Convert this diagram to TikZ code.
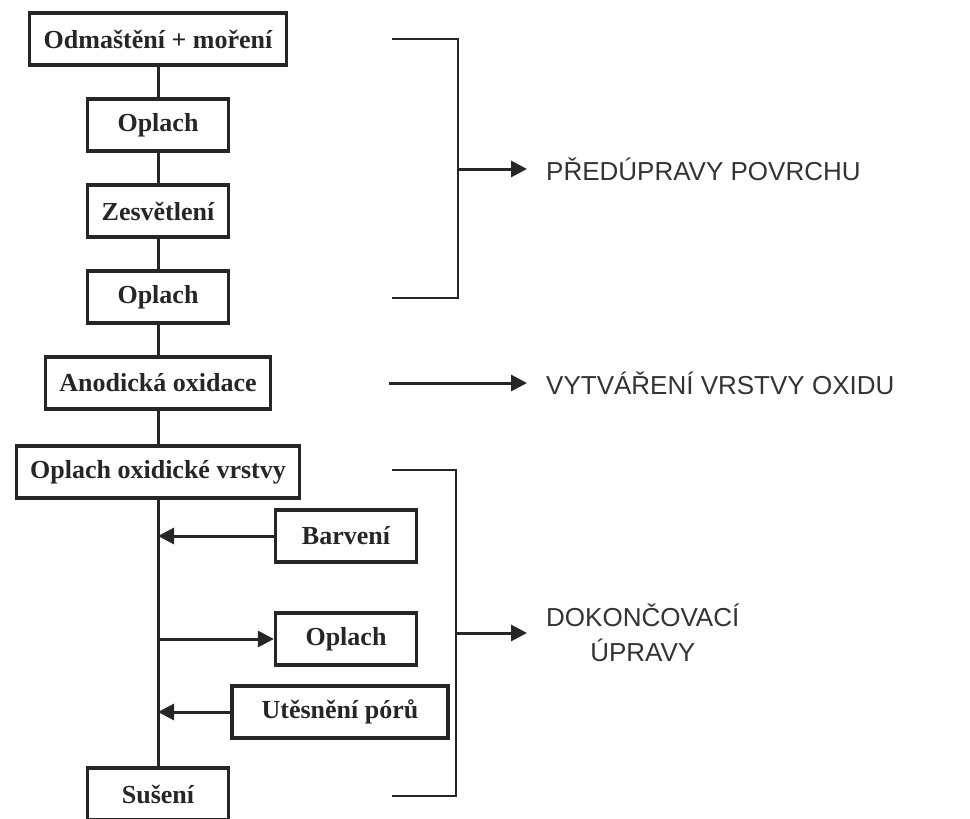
\documentclass[tikz,border=0pt]{standalone}
\usepackage{fontspec}
\setmainfont{Liberation Serif}
\setsansfont{Liberation Sans}
\usetikzlibrary{shapes,arrows.meta,positioning}

\begin{document}
\begin{tikzpicture}[x=1pt, y=1pt, node distance=86pt, auto,
    stepbox/.style={rectangle, draw=black!85, line width=3.2pt, minimum width=141pt, minimum height=52pt,
        inner xsep=14pt, font=\fontsize{26}{30}\selectfont\bfseries, text=black!85},
    phase/.style={inner xsep=19pt, inner ysep=0pt, align=center, text=black!80,
        font=\sffamily\fontsize{26}{35}\selectfont},
    conn/.style={draw=black!85, line width=3pt},
    toarrow/.style={conn, -{Triangle[length=16pt, width=16pt]}}]
    \useasboundingbox (0,0) rectangle (970,-819);

    % main sequence
    \node[stepbox] (odm) at (158,-39) {Odmaštění + moření};
    \node[stepbox, below of=odm] (opl1) {Oplach};
    \node[stepbox, below of=opl1] (zes) {Zesvětlení};
    \node[stepbox, below of=zes] (opl2) {Oplach};
    \node[stepbox, below of=opl2] (anod) {Anodická oxidace};
    \node[stepbox, below of=anod, node distance=89pt] (oxopl) {Oplach oxidické vrstvy};
    \node[stepbox, below of=oxopl, node distance=322pt] (sus) {Sušení};

    % side steps
    \node[stepbox] (barv) at (346,-536) {Barvení};
    \node[stepbox] (opl3) at (346,-639) {Oplach};
    \node[stepbox, minimum width=216pt] (ute) at (340,-712) {Utěsnění pórů};

    % phase labels
    \node[phase, anchor=west] (pred) at (527,-169) {PŘEDÚPRAVY POVRCHU};
    \node[phase, anchor=west] (vytv) at (527,-383) {VYTVÁŘENÍ VRSTVY OXIDU};
    \node[phase, anchor=west] (dok) at (527,-633) {DOKONČOVACÍ\\ÚPRAVY};

    % bracket corners
    \coordinate (b1t) at (392,-39);
    \coordinate (b1b) at (392,-298);
    \coordinate (b1m) at (458,-169);
    \coordinate (a0) at (389,-383);
    \coordinate (b2t) at (392,-470);
    \coordinate (b2b) at (392,-796);
    \coordinate (b2m) at (456,-633);

    % main line
    \draw[conn] (odm) -- (opl1);
    \draw[conn] (opl1) -- (zes);
    \draw[conn] (zes) -- (opl2);
    \draw[conn] (opl2) -- (anod);
    \draw[conn] (anod) -- (oxopl);
    \draw[conn] (oxopl) -- (sus);

    % side arrows
    \draw[toarrow] (barv.west) -- (barv -| sus);
    \draw[toarrow] (opl3 -| sus) -- (opl3.west);
    \draw[toarrow] (ute.west) -- (ute -| sus);

    % brackets
    \draw[conn, line width=2.6pt] (b1t) -| (b1m) |- (b1b);
    \draw[toarrow] (b1m) -- (pred.west);
    \draw[toarrow] (a0) -- (vytv.west);
    \draw[conn, line width=2.6pt] (b2t) -| (b2m) |- (b2b);
    \draw[toarrow] (b2m) -- (dok.west);
\end{tikzpicture}
\end{document}
